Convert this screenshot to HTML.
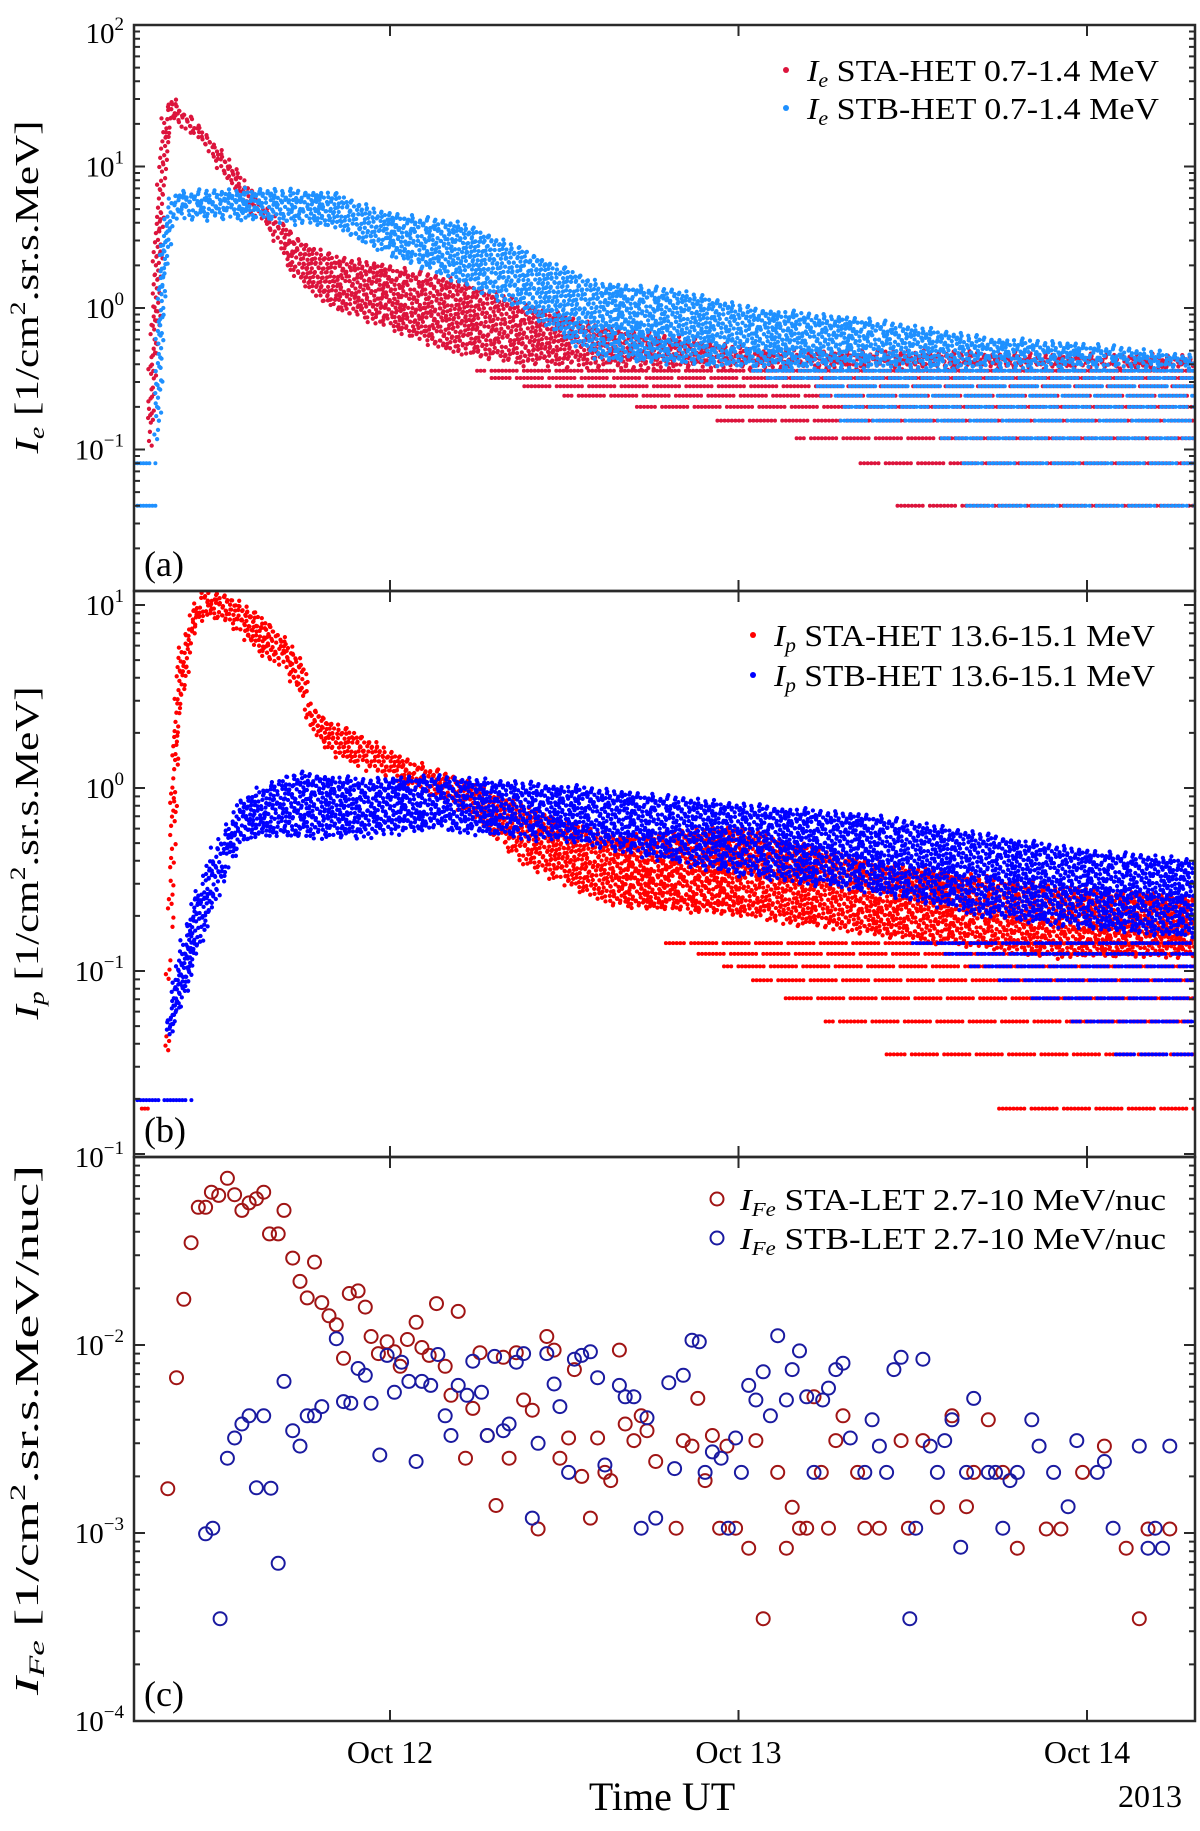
<!DOCTYPE html>
<html><head><meta charset="utf-8">
<style>
html,body{margin:0;padding:0;background:#fff;}
svg{display:block;font-family:"Liberation Serif","DejaVu Serif",serif;}
</style></head>
<body>
<svg id="fig" width="1200" height="1831" viewBox="0 0 1200 1831" xmlns="http://www.w3.org/2000/svg">
<defs>
<clipPath id="clipA"><rect x="134" y="25" width="1061" height="566"/></clipPath>
<clipPath id="clipB"><rect x="134" y="591" width="1061" height="566"/></clipPath>
<clipPath id="clipC"><rect x="134" y="1157" width="1061" height="564"/></clipPath>
</defs>
<rect x="0" y="0" width="1200" height="1831" fill="#fff"/>
<g id="marksA" clip-path="url(#clipA)"></g>
<g id="marksB" clip-path="url(#clipB)"></g>
<g id="marksC" clip-path="url(#clipC)"></g>
<g id="axes"></g>

<text transform="translate(38,287) rotate(-90)" text-anchor="middle" font-size="34" textLength="333" lengthAdjust="spacingAndGlyphs"><tspan font-style="italic">I</tspan><tspan font-style="italic" font-size="22" dy="6">e</tspan><tspan dy="-6">  [1/cm</tspan><tspan font-size="22" dy="-13">2</tspan><tspan dy="13">.sr.s.MeV]</tspan></text>
<text transform="translate(38,853) rotate(-90)" text-anchor="middle" font-size="34" textLength="333" lengthAdjust="spacingAndGlyphs"><tspan font-style="italic">I</tspan><tspan font-style="italic" font-size="22" dy="6">p</tspan><tspan dy="-6">  [1/cm</tspan><tspan font-size="22" dy="-13">2</tspan><tspan dy="13">.sr.s.MeV]</tspan></text>
<text transform="translate(38,1430) rotate(-90)" text-anchor="middle" font-size="34" textLength="530" lengthAdjust="spacingAndGlyphs"><tspan font-style="italic">I</tspan><tspan font-style="italic" font-size="22" dy="6">Fe</tspan><tspan dy="-6">  [1/cm</tspan><tspan font-size="22" dy="-13">2</tspan><tspan dy="13">.sr.s.MeV/nuc]</tspan></text>

<text x="144" y="576" font-size="36">(a)</text>
<text x="144" y="1142" font-size="36">(b)</text>
<text x="144" y="1706" font-size="36">(c)</text>

<g>
 <circle cx="786" cy="70" r="3" fill="#dc143c"/>
 <text x="807" y="81" font-size="31" textLength="352" lengthAdjust="spacingAndGlyphs"><tspan font-style="italic">I</tspan><tspan font-style="italic" font-size="20" dy="6">e</tspan><tspan dy="-6"> STA-HET 0.7-1.4 MeV</tspan></text>
 <circle cx="786" cy="108" r="3" fill="#1e90ff"/>
 <text x="807" y="119" font-size="31" textLength="352" lengthAdjust="spacingAndGlyphs"><tspan font-style="italic">I</tspan><tspan font-style="italic" font-size="20" dy="6">e</tspan><tspan dy="-6"> STB-HET 0.7-1.4 MeV</tspan></text>
</g>
<g>
 <circle cx="753" cy="635" r="3" fill="#ff0000"/>
 <text x="774" y="646" font-size="31" textLength="381" lengthAdjust="spacingAndGlyphs"><tspan font-style="italic">I</tspan><tspan font-style="italic" font-size="20" dy="6">p</tspan><tspan dy="-6"> STA-HET 13.6-15.1 MeV</tspan></text>
 <circle cx="753" cy="675" r="3" fill="#0000ff"/>
 <text x="774" y="686" font-size="31" textLength="381" lengthAdjust="spacingAndGlyphs"><tspan font-style="italic">I</tspan><tspan font-style="italic" font-size="20" dy="6">p</tspan><tspan dy="-6"> STB-HET 13.6-15.1 MeV</tspan></text>
</g>
<g>
 <circle cx="717" cy="1199" r="6.5" fill="none" stroke="#a01414" stroke-width="2"/>
 <text x="740" y="1210" font-size="31" textLength="426" lengthAdjust="spacingAndGlyphs"><tspan font-style="italic">I</tspan><tspan font-style="italic" font-size="20" dy="6">Fe</tspan><tspan dy="-6"> STA-LET 2.7-10 MeV/nuc</tspan></text>
 <circle cx="717" cy="1238" r="6.5" fill="none" stroke="#1a1aa0" stroke-width="2"/>
 <text x="740" y="1249" font-size="31" textLength="426" lengthAdjust="spacingAndGlyphs"><tspan font-style="italic">I</tspan><tspan font-style="italic" font-size="20" dy="6">Fe</tspan><tspan dy="-6"> STB-LET 2.7-10 MeV/nuc</tspan></text>
</g>

<text x="662" y="1810" font-size="40" text-anchor="middle">Time UT</text>
<text x="1182" y="1807" font-size="32" text-anchor="end">2013</text>
</svg>

<script>
// ---------- time axis (hours since 2013-10-11 00:00 UT) ----------
const xTickHours = [24, 48, 72];
const xTickLabels = ["Oct 12", "Oct 13", "Oct 14"];

// ---------- panel (a): electrons 0.7-1.4 MeV, band envelopes ----------
const eTimeA = [7.4, 7.8, 8.2, 8.5, 8.9, 10.9, 13.2, 15.5, 17.8, 20.1, 23.5, 28, 33, 38.4, 43.7, 49, 79.4];
const eLowA  = [0.1, 0.3, 2, 10, 22, 15, 7.2, 3.7, 1.5, 1.0, 0.75, 0.5, 0.4, 0.38, 0.38, 0.38, 0.38];
const eHighA = [0.2, 2, 10, 25, 31, 19, 10, 4.9, 3.0, 2.3, 2.0, 1.6, 1.1, 0.73, 0.61, 0.5, 0.45];
const eTimeB = [7.9, 8.2, 8.6, 9.1, 15, 20, 23.5, 29, 33, 38.4, 43.7, 49, 56.9, 64.8, 72.7, 79.4];
const eLowB  = [0.1, 0.3, 2, 4.4, 4.2, 3.8, 2.5, 1.5, 1.0, 0.43, 0.41, 0.38, 0.38, 0.38, 0.38, 0.38];
const eHighB = [0.3, 2, 4.5, 6.5, 6.8, 6.5, 4.7, 3.9, 2.6, 1.48, 1.32, 0.98, 0.82, 0.61, 0.54, 0.45];
const eLevels      = [0.04, 0.08, 0.12, 0.16, 0.2, 0.24, 0.28, 0.32, 0.36];
const eLevelStartA = [58.7, 56.4, 52, 46.3, 41, 36, 33, 31, 30];
const eLevelStartB = [63.5, 63.5, 62, 54.8, 55.3, 53.7, 53.2, 50, 49];
const eBaseLevelsB = [0.04, 0.08];
const eBaseWindowB = [6.4, 7.9];

// ---------- panel (b): protons 13.6-15.1 MeV ----------
const pTimeA = [8.6, 8.8, 9.0, 9.2, 9.5, 10.2, 11.1, 13, 15.3, 16.9, 18, 18.5, 19.9, 22.1, 24.5, 29, 33.6, 39.4, 47.8, 57.3, 69.2, 79.4];
const pLowA  = [0.035, 0.12, 0.25, 0.7, 2.5, 6, 8.7, 8, 5.3, 4.6, 2.9, 2.1, 1.6, 1.3, 1.1, 0.77, 0.37, 0.23, 0.2, 0.16, 0.12, 0.12];
const pHighA = [0.045, 0.16, 0.7, 2.1, 5.2, 8.4, 12, 11, 8.4, 6.3, 4.8, 2.8, 2.3, 1.9, 1.5, 1.1, 0.77, 0.54, 0.6, 0.39, 0.29, 0.25];
const pTimeB = [8.7, 9.5, 10.3, 11.0, 11.8, 12.8, 13.7, 15.3, 17.6, 22.2, 26.8, 37.1, 47.8, 57.3, 65, 72, 79.4];
const pLowB  = [0.04, 0.06, 0.1, 0.15, 0.22, 0.35, 0.5, 0.55, 0.54, 0.54, 0.6, 0.5, 0.34, 0.27, 0.2, 0.17, 0.15];
const pHighB = [0.055, 0.12, 0.22, 0.3, 0.45, 0.6, 0.85, 1.0, 1.2, 1.1, 1.15, 1.0, 0.81, 0.7, 0.55, 0.45, 0.4];
const pLevels      = [0.0177, 0.035, 0.053, 0.071, 0.089, 0.106, 0.124, 0.142];
const pLevelStartA = [65.7, 58.2, 54, 51, 49, 47, 45, 43];
const pLevelStartB = [80, 74, 71, 68, 66, 64, 62, 60];
const pBaseLevelA = [0.0177]; const pBaseWindowA = [6.7, 7.5];
const pBaseLevelB = [0.0197]; const pBaseWindowB = [6.4, 10.4];

// ---------- panel (c): Fe 2.7-10 MeV/nuc ----------
const feTimeA = [8.7,9.3,9.8,10.3,10.8,11.3,11.7,12.2,12.8,13.3,13.8,14.3,14.8,15.3,15.7,16.3,16.7,17.3,17.8,18.3,18.8,19.3,19.8,20.3,20.8,21.2,21.8,22.3,22.7,23.2,23.8,24.3,24.7,25.2,25.8,26.2,26.7,27.2,27.8,28.2,28.7,29.2,29.7,30.2,30.7,31.3,31.8,32.2,32.7,33.2,33.8,34.2,34.8,35.3,35.7,36.3,36.7,37.2,37.8,38.3,38.8,39.2,39.8,40.2,40.8,41.3,41.7,42.3,43.7,44.2,44.8,45.2,45.7,46.2,46.7,47.2,47.8,48.7,49.2,49.7,50.7,51.3,51.7,52.2,52.7,53.2,53.7,54.2,54.7,55.2,56.2,56.7,57.7,59.2,59.7,60.7,61.7,62.7,63.7,64.2,65.2,66.2,67.2,69.2,70.2,71.7,73.2,74.7,75.6,76.2,77.7];
const feValA = [0.00172,0.0067,0.0175,0.035,0.054,0.054,0.065,0.0625,0.077,0.063,0.052,0.057,0.060,0.065,0.039,0.039,0.052,0.029,0.0218,0.0178,0.0276,0.0168,0.0143,0.0128,0.0085,0.0188,0.0194,0.0159,0.0111,0.0090,0.0104,0.0092,0.0077,0.0107,0.0132,0.0097,0.0088,0.0166,0.0077,0.0054,0.0151,0.0025,0.0046,0.0091,0.0033,0.0014,0.0086,0.0025,0.0091,0.0051,0.0045,0.00105,0.0111,0.0094,0.0025,0.0032,0.0074,0.0020,0.0012,0.0032,0.0021,0.0019,0.0094,0.0038,0.0031,0.0042,0.0035,0.0024,0.00106,0.0031,0.0029,0.0052,0.0019,0.0033,0.00106,0.0029,0.00106,0.00083,0.0031,0.00035,0.0021,0.00083,0.00137,0.00106,0.00106,0.0053,0.0021,0.00106,0.0031,0.0042,0.0021,0.00106,0.00106,0.0031,0.00106,0.0031,0.00137,0.0042,0.00138,0.0021,0.0040,0.0021,0.00083,0.00105,0.00105,0.0021,0.0029,0.00083,0.00035,0.00105,0.00105];
const feTimeB = [11.3,11.8,12.3,12.8,13.3,13.8,14.3,14.8,15.3,15.8,16.3,16.7,17.3,17.8,18.3,18.8,19.3,20.3,20.8,21.3,21.8,22.3,22.7,23.3,23.8,24.3,24.8,25.3,25.8,26.2,26.8,27.3,27.8,28.2,28.7,29.3,29.7,30.3,30.7,31.2,31.8,32.2,32.7,33.2,33.8,34.2,34.8,35.3,35.7,36.3,36.7,37.2,37.8,38.3,38.8,39.8,40.2,40.8,41.3,41.7,42.3,43.2,43.6,44.2,44.8,45.3,45.7,46.2,46.8,47.3,47.8,48.2,48.7,49.2,49.7,50.2,50.7,51.3,51.7,52.2,52.7,53.2,53.8,54.2,54.7,55.2,55.7,56.7,57.2,57.7,58.2,58.7,59.2,59.8,60.2,60.7,61.2,61.7,62.2,62.7,63.3,63.7,64.2,65.2,65.7,66.2,66.7,67.2,68.2,68.7,69.7,70.7,71.3,72.7,73.2,73.8,75.6,76.2,76.7,77.2,77.7];
const feValB = [0.00099,0.00106,0.00035,0.0025,0.0032,0.0038,0.0042,0.00174,0.0042,0.00173,0.00069,0.0064,0.0035,0.0029,0.0042,0.0042,0.0047,0.0108,0.0050,0.0049,0.0075,0.0069,0.0049,0.0026,0.0088,0.0056,0.0081,0.0064,0.0024,0.0064,0.0061,0.0089,0.0042,0.0033,0.0061,0.0054,0.0082,0.0056,0.0033,0.0087,0.0035,0.0038,0.0081,0.0090,0.0012,0.0030,0.0090,0.0062,0.0047,0.0021,0.0084,0.0088,0.0092,0.0067,0.0023,0.0061,0.0053,0.0053,0.00106,0.0041,0.0012,0.0063,0.0022,0.0069,0.0106,0.0104,0.0021,0.0027,0.0025,0.00106,0.0032,0.0021,0.0061,0.0051,0.0072,0.0042,0.0112,0.0051,0.0074,0.0093,0.0053,0.0021,0.0051,0.0059,0.0074,0.0080,0.0032,0.0021,0.0040,0.0029,0.0021,0.0074,0.0086,0.00035,0.00106,0.0084,0.0029,0.0021,0.0031,0.0040,0.00084,0.0021,0.0052,0.0021,0.0021,0.00106,0.0019,0.0021,0.0040,0.0029,0.0021,0.00138,0.0031,0.0021,0.0024,0.00106,0.0029,0.00083,0.00106,0.00083,0.0029];

// ---------- axis functions ----------
const T_MIN = 6.37, T_MAX = 79.44;
const xs = t => 390 + (t - 24) * 348.5 / 24;
const ya = v => 25 + (2 - Math.log10(v)) * 141.5;
const yb = v => 605 + (1 - Math.log10(v)) * 183;
const yc = v => 1157 + (-1 - Math.log10(v)) * 188;

const NS = "http://www.w3.org/2000/svg";
function mk(tag, parent, attrs) {
  const el = document.createElementNS(NS, tag);
  for (const k in attrs) el.setAttribute(k, attrs[k]);
  parent.appendChild(el);
  return el;
}

function bandPath(T, LO, HI, yf, dt, dy) {
  let d = "", i = 0;
  for (let t = T[0]; t <= T[T.length - 1] + 1e-9; t += dt, i++) {
    let k = 0;
    while (k < T.length - 2 && t > T[k + 1]) k++;
    const f = Math.min(1, Math.max(0, (t - T[k]) / (T[k + 1] - T[k])));
    const lo = Math.pow(10, Math.log10(LO[k]) * (1 - f) + Math.log10(LO[k + 1]) * f);
    const hi = Math.pow(10, Math.log10(HI[k]) * (1 - f) + Math.log10(HI[k + 1]) * f);
    const y1 = yf(hi), y2 = yf(lo);
    let j = 0;
    for (let y = y1 + (i % 3) * dy / 3; y <= y2 + 0.01 || j === 0; y += dy, j++) {
      if ((i * 7 + j * 13) % 5 === 0) continue;
      if (j > 0 && (i * 3 + j * 11) % 7 === 0) continue;
      const jx = (((i * 5 + j * 3) % 7) - 3) * 0.9;
      const jy = (((i * 3 + j * 7) % 7) - 3) * 0.9;
      d += "M" + (xs(t) + jx).toFixed(1) + " " + (Math.min(y, y2) + jy).toFixed(1) + "h0";
    }
  }
  return d;
}
function levelPath(vals, starts, endT, yf, step) {
  let d = "";
  for (let k = 0; k < vals.length; k++) {
    if (starts[k] >= endT) continue;
    const y = yf(vals[k]);
    let n = 0;
    for (let x = xs(starts[k]); x <= xs(endT); x += step, n++) {
      if ((n * 7 + k * 3) % 9 === 0) continue;
      d += "M" + x.toFixed(1) + " " + y.toFixed(1) + "h0";
    }
  }
  return d;
}
function dotLayer(parent, d, color, w) {
  return mk("path", parent, {d: d, fill: "none", stroke: color, "stroke-width": w, "stroke-linecap": "round"});
}

// ---------- panel (a) ----------
const gA = document.getElementById("marksA");
let p;
p = dotLayer(gA, bandPath(eTimeA, eLowA, eHighA, ya, 0.15, 4.6), "#dc143c", 4.3);


p = dotLayer(gA, levelPath(eLevels, eLevelStartA, T_MAX, ya, 3.6), "#dc143c", 4.0);


p = dotLayer(gA, bandPath(eTimeB, eLowB, eHighB, ya, 0.15, 4.6), "#1e90ff", 4.3);


p = dotLayer(gA, levelPath(eLevels, eLevelStartB, T_MAX, ya, 3.6) +
  levelPath(eBaseLevelsB, [eBaseWindowB[0], eBaseWindowB[0]], eBaseWindowB[1], ya, 3), "#1e90ff", 4.0);



// ---------- panel (b) ----------
const gB = document.getElementById("marksB");
p = dotLayer(gB, bandPath(pTimeA, pLowA, pHighA, yb, 0.15, 4.6), "#ff0000", 4.3);


p = dotLayer(gB, levelPath(pLevels, pLevelStartA, T_MAX, yb, 3.6) +
  levelPath(pBaseLevelA, [pBaseWindowA[0]], pBaseWindowA[1], yb, 3), "#ff0000", 4.0);


p = dotLayer(gB, bandPath(pTimeB, pLowB, pHighB, yb, 0.15, 4.6), "#0000ff", 4.3);


p = dotLayer(gB, levelPath(pLevels, pLevelStartB, T_MAX, yb, 3.6) +
  levelPath(pBaseLevelB, [pBaseWindowB[0]], pBaseWindowB[1], yb, 3), "#0000ff", 4.0);



// ---------- panel (c) ----------
const gC = document.getElementById("marksC");
for (let i = 0; i < feTimeA.length; i++) {
  const c = mk("circle", gC, {cx: xs(feTimeA[i]).toFixed(1), cy: yc(feValA[i]).toFixed(1), r: 6.5, fill: "none", stroke: "#a01414", "stroke-width": 2});
  
  
}
for (let i = 0; i < feTimeB.length; i++) {
  const c = mk("circle", gC, {cx: xs(feTimeB[i]).toFixed(1), cy: yc(feValB[i]).toFixed(1), r: 6.5, fill: "none", stroke: "#1a1aa0", "stroke-width": 2});
  
  
}

// ---------- axes, ticks, labels ----------
const gAx = document.getElementById("axes");
const L = 134, R = 1195;
const panels = [
  {name: "a", top: 25, bot: 591, yf: ya, lo: -2, hi: 2, labels: [2, 1, 0, -1]},
  {name: "b", top: 591, bot: 1157, yf: yb, lo: -2, hi: 1, labels: [1, 0, -1]},
  {name: "c", top: 1157, bot: 1721, yf: yc, lo: -4, hi: -1, labels: [-1, -2, -3, -4]}
];
for (const P of panels) {
  const fr = mk("rect", gAx, {x: L, y: P.top, width: R - L, height: P.bot - P.top, fill: "none", stroke: "#2a2a2a", "stroke-width": 2.5});
  
  
  let d = "";
  for (let e = P.lo; e <= P.hi; e++) {
    for (let m = 1; m <= 9; m++) {
      const y = P.yf(m * Math.pow(10, e));
      if (y < P.top - 0.5 || y > P.bot + 0.5) continue;
      const len = m === 1 ? 11 : 6;
      d += "M" + L + " " + y.toFixed(1) + "h" + len + "M" + R + " " + y.toFixed(1) + "h" + (-len);
    }
  }
  for (const h of xTickHours) {
    const x = xs(h).toFixed(1);
    d += "M" + x + " " + P.top + "v11M" + x + " " + P.bot + "v-11";
  }
  const tk = mk("path", gAx, {d: d, stroke: "#2a2a2a", "stroke-width": 2, fill: "none"});
  
  
  for (const e of P.labels) {
    let y = P.yf(Math.pow(10, e));
    if (y < 30) y = 33;
    const t = mk("text", gAx, {x: 124, y: (y + 10).toFixed(1), "font-size": 29, "text-anchor": "end"});
    
    
    const s1 = mk("tspan", t, {});
    s1.textContent = "10";
    const s2 = mk("tspan", t, {"font-size": 19, dy: -13});
    s2.textContent = e < 0 ? "\u2212" + (-e) : String(e);
  }
}
for (let i = 0; i < xTickHours.length; i++) {
  const t = mk("text", gAx, {x: xs(xTickHours[i]).toFixed(1), y: 1763, "font-size": 32, "text-anchor": "middle"});
  
  
  t.textContent = xTickLabels[i];
}
</script>
</body></html>
